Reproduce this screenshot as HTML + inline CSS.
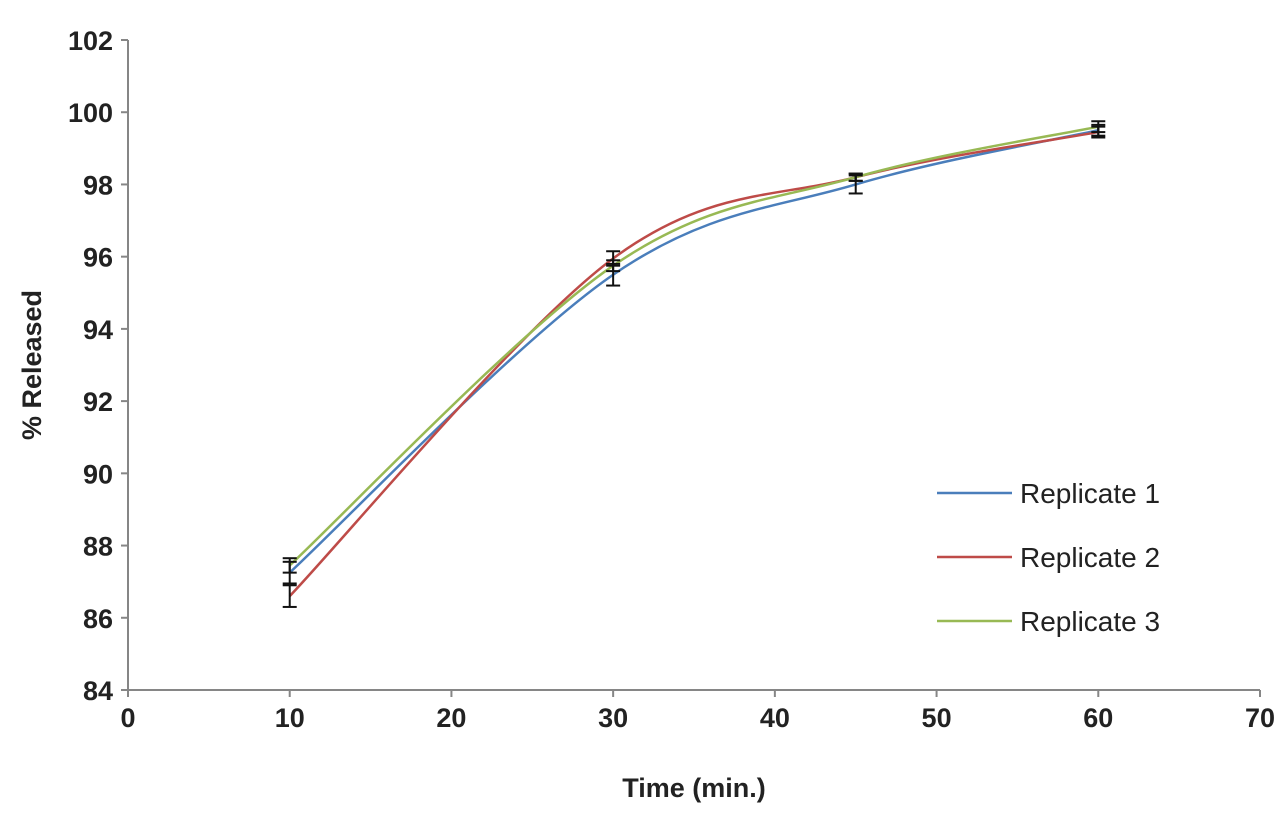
<!DOCTYPE html>
<html><head><meta charset="utf-8"><style>
body{margin:0;background:#fff;}
svg text{font-family:"Liberation Sans",sans-serif;}
</style></head><body>
<svg id="chart" width="1288" height="810"></svg>
<script>
const xValues=[10,30,45,60];
const rep1=[87.25,95.5,98.0,99.5];
const rep2=[86.6,95.95,98.2,99.45];
const rep3=[87.45,95.75,98.2,99.6];
const err1=[0.3,0.3,0.25,0.15];
const err2=[0.3,0.2,0.1,0.15];
const err3=[0.2,0.15,0.1,0.15];
const xTicks=[0,10,20,30,40,50,60,70];
const yTicks=[84,86,88,90,92,94,96,98,100,102];
const seriesNames=["Replicate 1","Replicate 2","Replicate 3"];
const colors=["#4a7ebb","#be4b48","#98b954"];
const NS="http://www.w3.org/2000/svg";
const svg=document.getElementById('chart');
const X=v=>128+v*(1260-128)/70;
const Y=v=>690-(v-84)*(650/18);
function el(t,a,p){const e=document.createElementNS(NS,t);for(const k in a)e.setAttribute(k,a[k]);(p||svg).appendChild(e);return e;}
let ax=el('line',{x1:128,y1:690,x2:1260,y2:690,stroke:'#868686','stroke-width':2});

let ay=el('line',{x1:128,y1:40,x2:128,y2:690,stroke:'#868686','stroke-width':2});

xTicks.forEach(t=>{
 el('line',{x1:X(t),y1:690,x2:X(t),y2:697,stroke:'#868686','stroke-width':2});
 const tx=el('text',{x:X(t),y:727,'text-anchor':'middle','font-size':27,'font-weight':'bold',fill:'#222'});
 tx.textContent=t;
 
});
yTicks.forEach(t=>{
 el('line',{x1:121,y1:Y(t),x2:128,y2:Y(t),stroke:'#868686','stroke-width':2});
 const tx=el('text',{x:113,y:Y(t)+10,'text-anchor':'end','font-size':27,'font-weight':'bold',fill:'#222'});
 tx.textContent=t;
 
});
let xt=el('text',{x:694,y:797,'text-anchor':'middle','font-size':27,'font-weight':'bold',fill:'#222'});
xt.textContent='Time (min.)';
let yt=el('text',{x:0,y:0,'text-anchor':'middle','font-size':27,'font-weight':'bold',fill:'#222',transform:'translate(41,365) rotate(-90)'});
yt.textContent='% Released';
function smooth(pts){
 let d=`M${pts[0][0]},${pts[0][1]}`;
 for(let i=0;i<pts.length-1;i++){
  const p0=pts[i-1]||pts[i],p1=pts[i],p2=pts[i+1],p3=pts[i+2]||p2;
  const c1=[p1[0]+(p2[0]-p0[0])/6,p1[1]+(p2[1]-p0[1])/6];
  const c2=[p2[0]-(p3[0]-p1[0])/6,p2[1]-(p3[1]-p1[1])/6];
  d+=` C${c1[0]},${c1[1]} ${c2[0]},${c2[1]} ${p2[0]},${p2[1]}`;
 }
 return d;
}
const all=[rep1,rep2,rep3],errs=[err1,err2,err3];
all.forEach((s,k)=>{
 const p=el('path',{d:smooth(s.map((v,i)=>[X(xValues[i]),Y(v)])),fill:'none',stroke:colors[k],'stroke-width':2.5});
 
});
all.forEach((s,k)=>{
 s.forEach((v,i)=>{
  const x=X(xValues[i]),y1=Y(v+errs[k][i]),y2=Y(v-errs[k][i]);
  const g=el('g',{stroke:'#111','stroke-width':2});
  
  el('line',{x1:x,y1:y1,x2:x,y2:y2},g);
  el('line',{x1:x-7,y1:y1,x2:x+7,y2:y1},g);
  el('line',{x1:x-7,y1:y2,x2:x+7,y2:y2},g);
 });
});
seriesNames.forEach((n,k)=>{
 const y=493+k*64;
 const g=el('g',{});
 
 el('line',{x1:937,y1:y,x2:1012,y2:y,stroke:colors[k],'stroke-width':2.5},g);
 const t=el('text',{x:1020,y:y+10,'font-size':28,fill:'#222'},g);
 t.textContent=n;
});
</script>
</body></html>
